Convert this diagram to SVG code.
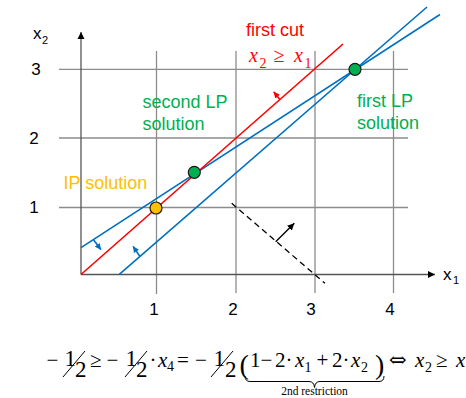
<svg xmlns="http://www.w3.org/2000/svg" width="466" height="398" viewBox="0 0 466 398">
<defs>
<style>
.grid{stroke:#8c8c8c;stroke-width:1.3;fill:none}
.axis{stroke:#555;stroke-width:1.3;fill:none}
.sans{font-family:"Liberation Sans",Arial,sans-serif}
.serif{font-family:"Liberation Serif","Times New Roman",serif}
.lbl{font-size:17px;fill:#000}
.green{fill:#00B050;font-size:18px}
.gold{fill:#FFC000;font-size:18px}
.red{fill:#FF0000}
.blue{stroke:#0070C0;stroke-width:1.6;fill:none}
.redl{stroke:#FF0000;stroke-width:1.6;fill:none}
.f{font-size:21px;fill:#000}
.fr{font-size:23px}
.it{font-style:italic}
.sub{font-size:14px}
</style>
<marker id="ahK" markerWidth="8" markerHeight="8" refX="7" refY="4" orient="auto" markerUnits="userSpaceOnUse"><path d="M0,0.5 L7,4 L0,7.5 z" fill="#000"/></marker>
<marker id="ahB" markerWidth="7" markerHeight="7" refX="6" refY="3.5" orient="auto" markerUnits="userSpaceOnUse"><path d="M0,0.5 L6.5,3.5 L0,6.5 z" fill="#0070C0"/></marker>
<marker id="ahR" markerWidth="7" markerHeight="7" refX="6" refY="3.5" orient="auto" markerUnits="userSpaceOnUse"><path d="M0,0.5 L6.5,3.5 L0,6.5 z" fill="#FF0000"/></marker>
</defs>
<rect width="466" height="398" fill="#fff"/>
<g id="grid">
<line class="grid" x1="59" y1="69.3" x2="408" y2="69.3"/>
<line class="grid" x1="59" y1="138" x2="408" y2="138"/>
<line class="grid" x1="59" y1="207.5" x2="408" y2="207.5"/>
<line class="grid" x1="156.5" y1="51" x2="156.5" y2="294"/>
<line class="grid" x1="236" y1="51" x2="236" y2="293"/>
<line class="grid" x1="315" y1="51" x2="315" y2="293"/>
<line class="grid" x1="393.5" y1="51" x2="393.5" y2="293"/>
</g>
<g id="axes">
<line class="axis" x1="81" y1="274.5" x2="81" y2="32" marker-end="url(#ahK)"/>
<line class="axis" x1="81" y1="274.5" x2="435" y2="274.5" marker-end="url(#ahK)"/>
<text class="sans lbl" x="33" y="39">x</text><text class="sans" font-size="11" x="42" y="43.5">2</text>
<text class="sans lbl" x="443" y="280">x</text><text class="sans" font-size="11" x="453" y="284">1</text>
<text class="sans lbl" x="36" y="75" text-anchor="middle">3</text>
<text class="sans lbl" x="34" y="143.5" text-anchor="middle">2</text>
<text class="sans lbl" x="34" y="212.5" text-anchor="middle">1</text>
<text class="sans lbl" x="154" y="315" text-anchor="middle">1</text>
<text class="sans lbl" x="233" y="315" text-anchor="middle">2</text>
<text class="sans lbl" x="311" y="315" text-anchor="middle">3</text>
<text class="sans lbl" x="390" y="315" text-anchor="middle">4</text>
</g>
<g id="connectors">
<line class="blue" x1="81" y1="247.7" x2="440" y2="14.5"/>
<line class="blue" x1="119.3" y1="274.3" x2="427" y2="7"/>
<line class="redl" x1="81" y1="274.5" x2="343" y2="44"/>
<line class="blue" x1="93.5" y1="239.8" x2="100.9" y2="249.6" stroke-width="1.3" marker-end="url(#ahB)"/>
<line class="blue" x1="140" y1="256.5" x2="133.1" y2="246.4" stroke-width="1.3" marker-end="url(#ahB)"/>
<line class="redl" x1="279.7" y1="99.3" x2="273.8" y2="92" stroke-width="1.3" marker-end="url(#ahR)"/>
<line x1="231.7" y1="203.3" x2="325" y2="283.3" stroke="#000" stroke-width="1.3" stroke-dasharray="6,4"/>
<line x1="275.7" y1="241.7" x2="294.3" y2="223.3" stroke="#000" stroke-width="1.4" marker-end="url(#ahK)"/>
</g>
<g id="first-cut">
<text class="sans red" font-size="18" x="246" y="36">first cut</text>
<text class="serif red it" font-size="20" x="249" y="62.3">x</text>
<text class="serif red" font-size="14" x="259.5" y="68">2</text>
<text class="serif red" font-size="20" x="273.5" y="62.3">≥</text>
<text class="serif red it" font-size="20" x="294" y="62.3">x</text>
<text class="serif red" font-size="14" x="304.5" y="68">1</text>
</g>
<g id="first-lp">
<circle cx="355" cy="69.3" r="6" fill="#00B050" stroke="#1a1a1a" stroke-width="1.2"/>
<text class="sans green" x="357" y="107">first LP</text>
<text class="sans green" x="357" y="129">solution</text>
</g>
<g id="second-lp">
<circle cx="194.3" cy="172.3" r="6" fill="#00B050" stroke="#1a1a1a" stroke-width="1.2"/>
<text class="sans green" x="142.5" y="108">second LP</text>
<text class="sans green" x="142.5" y="130">solution</text>
</g>
<g id="ip">
<circle cx="156" cy="208" r="6" fill="#FFC000" stroke="#1a1a1a" stroke-width="1.2"/>
<text class="sans gold" x="63.5" y="189">IP solution</text>
</g>
<g id="formula" class="serif f">
<text x="46.5" y="367">−</text>
<text class="fr" x="64.5" y="366">1</text>
<line x1="63" y1="377" x2="85" y2="351" stroke="#000" stroke-width="1"/>
<text class="fr" x="75" y="377">2</text>
<text x="90" y="367">≥</text>
<text x="106.5" y="367">−</text>
<text class="fr" x="125.5" y="366">1</text>
<line x1="125" y1="377" x2="147" y2="351" stroke="#000" stroke-width="1"/>
<text class="fr" x="136" y="377">2</text>
<text x="149.5" y="367">·</text>
<text class="it" x="158" y="367">x</text>
<text class="sub" x="167" y="370.5">4</text>
<text x="177" y="367">=</text>
<text x="195" y="367">−</text>
<text class="fr" x="213.5" y="366">1</text>
<line x1="211" y1="377" x2="233" y2="351" stroke="#000" stroke-width="1"/>
<text class="fr" x="225" y="377">2</text>
<text font-size="28" x="239.5" y="373.5">(</text>
<text x="250" y="367">1</text>
<text x="260.5" y="367">−</text>
<text x="275" y="367">2</text>
<text x="285.5" y="367">·</text>
<text class="it" x="295" y="367">x</text>
<text class="sub" x="304.5" y="371.5">1</text>
<text x="316.5" y="367">+</text>
<text x="332" y="367">2</text>
<text x="342.5" y="367">·</text>
<text class="it" x="351" y="367">x</text>
<text class="sub" x="361" y="371.5">2</text>
<text font-size="28" x="375" y="373.5">)</text>
<text font-family="'DejaVu Serif',serif" font-size="21" x="389" y="367">⇔</text>
<text class="it" x="415" y="367">x</text>
<text class="sub" x="425" y="371.5">2</text>
<text x="436" y="367">≥</text>
<text class="it" x="456" y="367">x</text>
<path d="M245,376 Q245,381.5 250,381.5 L309,381.5 Q314,381.5 314.5,387.5 Q315,381.5 320,381.5 L379,381.5 Q384,381.5 384,376" fill="none" stroke="#000" stroke-width="1"/>
<text font-size="11.5" x="314.5" y="395" text-anchor="middle">2nd restriction</text>
</g>
</svg>
